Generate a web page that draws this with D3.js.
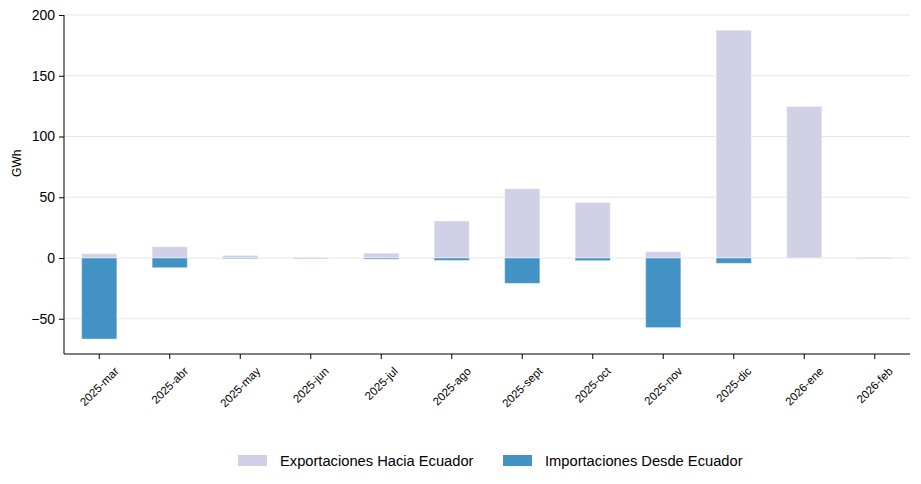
<!DOCTYPE html>
<html>
<head>
<meta charset="utf-8">
<script src="https://cdn.jsdelivr.net/npm/d3@7"></script>
<style>
  body { margin: 0; background: #fff; }
  svg { font-family: "Liberation Sans", Arial, sans-serif; }
</style>
</head>
<body>
<div id="plot"></div>
<script>
const WIDTH = 921;
const HEIGHT = 484;

const months = ['2025-mar', '2025-abr', '2025-may', '2025-jun', '2025-jul', '2025-ago',
    '2025-sept', '2025-oct', '2025-nov', '2025-dic', '2026-ene', '2026-feb'];
const exportaciones = [3.5, 9.3, 2.2, 0.8, 4.0, 30.5, 57.0, 45.7, 5.2, 187.5, 124.7, 0.8];
const importaciones = [-66.7, -8.0, -0.6, -0.4, -1.0, -2.0, -20.9, -2.2, -57.3, -4.4, 0, -0.2];
const yTicks = [-50, 0, 50, 100, 150, 200];
const seriesNames = ['Exportaciones Hacia Ecuador', 'Importaciones Desde Ecuador'];
const seriesColors = ['#d0d1e6', '#4292c6'];

const margin = { left: 64, right: 11, top: 15, bottom: 130 };

var svg = d3.select('#plot')
    .append('svg')
    .attr('width', WIDTH)
    .attr('height', HEIGHT);

var x = d3.scaleBand()
    .domain(months)
    .range([margin.left, WIDTH - margin.right])
    .paddingInner(0.5)
    .paddingOuter(0.25);

var y = d3.scaleLinear()
    .domain([-79, 200])
    .range([HEIGHT - margin.bottom, margin.top]);

// grid
svg.append('g')
    .selectAll('line')
    .data(yTicks)
    .enter()
    .append('line')
    .attr('x1', margin.left)
    .attr('x2', WIDTH - margin.right)
    .attr('y1', d => y(d))
    .attr('y2', d => y(d))
    .attr('stroke', '#e6e6e6')
    .attr('stroke-width', 1);

function drawBars(values, color) {
    svg.append('g')
        .selectAll('rect')
        .data(values)
        .enter()
        .append('rect')
        .attr('x', (d, i) => x(months[i]))
        .attr('width', x.bandwidth())
        .attr('y', d => y(Math.max(0, d)))
        .attr('height', d => Math.abs(y(d) - y(0)))
        .attr('fill', color)
        .attr('stroke', 'rgba(255,255,255,0.45)')
        .attr('stroke-width', 1);
}

drawBars(exportaciones, seriesColors[0]);
drawBars(importaciones, seriesColors[1]);

// y axis
var yAxis = svg.append('g')
    .attr('transform', `translate(${margin.left},0)`)
    .call(d3.axisLeft(y).tickValues(yTicks).tickSize(5).tickPadding(4)
        .tickFormat(d => d < 0 ? '\u2212' + Math.abs(d) : d));
yAxis.select('.domain').attr('d', `M0,${y.range()[0]}V${y.range()[1]}`).attr('stroke', '#000');
yAxis.selectAll('text').attr('font-size', 14).attr('fill', '#000');
yAxis.selectAll('.tick line').attr('stroke', '#000');

// x axis
var xAxis = svg.append('g')
    .attr('transform', `translate(0,${HEIGHT - margin.bottom})`)
    .call(d3.axisBottom(x).tickSize(5).tickSizeOuter(0).tickFormat(''));
xAxis.select('.domain').attr('d', `M${margin.left},0H${WIDTH - margin.right}`).attr('stroke', '#000');
xAxis.selectAll('.tick line').attr('stroke', '#000');

svg.append('g')
    .selectAll('text')
    .data(months)
    .enter()
    .append('text')
    .attr('font-size', 11.5)
    .attr('fill', '#000')
    .attr('text-anchor', 'middle')
    .attr('dominant-baseline', 'central')
    .text(d => d)
    .each(function (d) {
        let w = this.getComputedTextLength();
        let h = (w + 11.5) * Math.SQRT1_2;
        let cx = x(d) + x.bandwidth() / 2;
        let cy = HEIGHT - margin.bottom + 11 + h / 2;
        d3.select(this).attr('transform', `translate(${cx},${cy}) rotate(-45)`);
    });

// y label
svg.append('text')
    .attr('transform', `translate(21,${y(78)}) rotate(-90)`)
    .attr('text-anchor', 'middle')
    .attr('font-size', 12)
    .attr('fill', '#000')
    .text('GWh');

// legend
const legendX = [238, 503];
var legend = svg.append('g')
    .selectAll('g')
    .data(seriesNames)
    .enter()
    .append('g')
    .attr('transform', (d, i) => `translate(${legendX[i]},455)`);

legend.append('rect')
    .attr('width', 29)
    .attr('height', 11)
    .attr('fill', (d, i) => seriesColors[i]);

legend.append('text')
    .attr('x', 42)
    .attr('y', 10.5)
    .attr('font-size', 14.7)
    .attr('fill', '#000')
    .text(d => d);
</script>
</body>
</html>
